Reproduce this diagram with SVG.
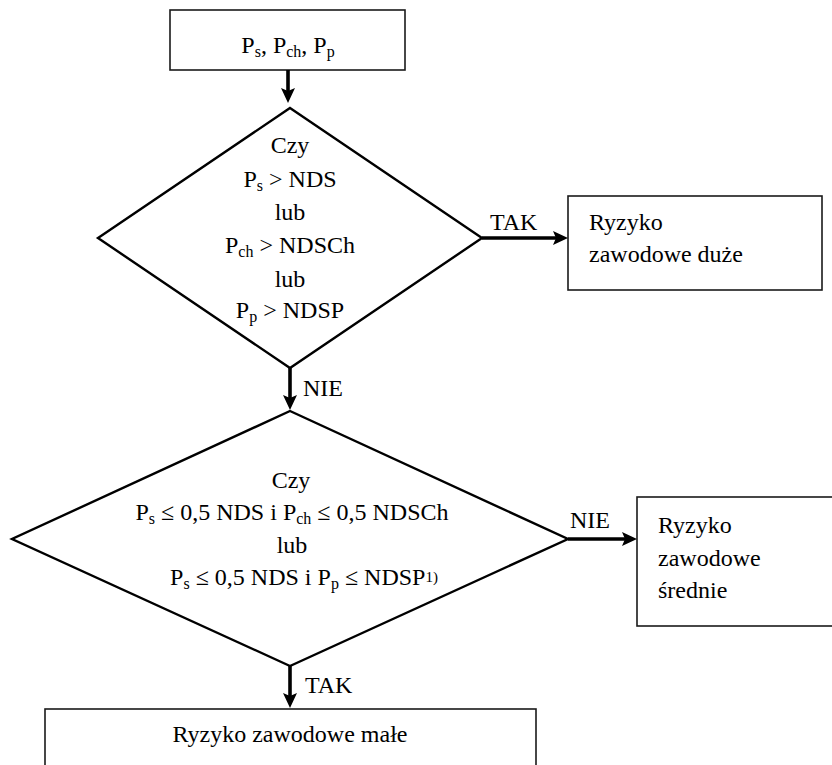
<svg xmlns="http://www.w3.org/2000/svg" width="832" height="765" viewBox="0 0 832 765">
  <rect width="832" height="765" fill="#ffffff"/>

  <!-- input box -->
  <g id="input">
    <rect x="170" y="10" width="235" height="60" fill="#ffffff" stroke="#1a1a1a" stroke-width="1.6"/>
    <text text-anchor="middle" font-family="Liberation Serif" font-size="24" x="288" y="53">P<tspan font-size="16" dy="4">s</tspan><tspan dy="-4">, P</tspan><tspan font-size="16" dy="4">ch</tspan><tspan dy="-4">, P</tspan><tspan font-size="16" dy="4">p</tspan></text>
  </g>

  <!-- first decision -->
  <g id="decision1">
    <polygon points="290,108 482,238 290,368 98,238" fill="#ffffff" stroke="#000000" stroke-width="2.4"/>
    <text text-anchor="middle" font-family="Liberation Serif" font-size="24" x="290" y="153">Czy</text>
    <text text-anchor="middle" font-family="Liberation Serif" font-size="24" x="290" y="187">P<tspan font-size="16" dy="4">s</tspan><tspan dy="-4"> &gt; NDS</tspan></text>
    <text text-anchor="middle" font-family="Liberation Serif" font-size="24" x="290" y="220">lub</text>
    <text text-anchor="middle" font-family="Liberation Serif" font-size="24" x="290" y="253">P<tspan font-size="16" dy="4">ch</tspan><tspan dy="-4"> &gt; NDSCh</tspan></text>
    <text text-anchor="middle" font-family="Liberation Serif" font-size="24" x="290" y="287">lub</text>
    <text text-anchor="middle" font-family="Liberation Serif" font-size="24" x="290" y="318">P<tspan font-size="16" dy="4">p</tspan><tspan dy="-4"> &gt; NDSP</tspan></text>
  </g>

  <!-- high risk -->
  <g id="risk-high">
    <rect x="568" y="196" width="254" height="94" fill="#ffffff" stroke="#1a1a1a" stroke-width="1.6"/>
    <text font-family="Liberation Serif" font-size="24" x="589" y="230">Ryzyko</text>
    <text font-family="Liberation Serif" font-size="24" x="589" y="262">zawodowe duże</text>
  </g>

  <!-- second decision -->
  <g id="decision2">
    <polygon points="290,411 568,539 290,666 12,539" fill="#ffffff" stroke="#000000" stroke-width="2.4"/>
    <text text-anchor="middle" font-family="Liberation Serif" font-size="24" x="291" y="488">Czy</text>
    <text text-anchor="middle" font-family="Liberation Serif" font-size="24" x="292" y="520">P<tspan font-size="16" dy="4">s</tspan><tspan dy="-4"> ≤ 0,5 NDS i P</tspan><tspan font-size="16" dy="4">ch</tspan><tspan dy="-4"> ≤ 0,5 NDSCh</tspan></text>
    <text text-anchor="middle" font-family="Liberation Serif" font-size="24" x="292" y="553">lub</text>
    <text text-anchor="middle" font-family="Liberation Serif" font-size="24" x="304" y="585">P<tspan font-size="16" dy="4">s</tspan><tspan dy="-4"> ≤ 0,5 NDS i P</tspan><tspan font-size="16" dy="4">p</tspan><tspan dy="-4"> ≤ NDSP</tspan><tspan font-size="15" dy="-3">1)</tspan></text>
  </g>

  <!-- medium risk -->
  <g id="risk-medium">
    <rect x="637" y="497" width="230" height="129" fill="#ffffff" stroke="#1a1a1a" stroke-width="1.6"/>
    <text font-family="Liberation Serif" font-size="24" x="658" y="533">Ryzyko</text>
    <text font-family="Liberation Serif" font-size="24" x="658" y="566">zawodowe</text>
    <text font-family="Liberation Serif" font-size="24" x="658" y="598">średnie</text>
  </g>

  <!-- low risk -->
  <g id="risk-low">
    <rect x="45" y="709" width="491" height="80" fill="#ffffff" stroke="#1a1a1a" stroke-width="1.6"/>
    <text text-anchor="middle" font-family="Liberation Serif" font-size="24" x="290" y="742">Ryzyko zawodowe małe</text>
  </g>

  <!-- connectors: shafts plus arrowheads -->
  <g id="connectors">
    <g stroke="#000000" stroke-width="3.6">
      <line x1="288" y1="70" x2="288" y2="92"/>
      <line x1="482" y1="238" x2="557" y2="238"/>
      <line x1="290" y1="368" x2="290" y2="399"/>
      <line x1="568" y1="539" x2="626" y2="539"/>
      <line x1="290" y1="666" x2="290" y2="697"/>
    </g>
    <g fill="#000000">
      <polygon points="281,88 288,91 295,88 288,103"/>
      <polygon points="553,231 556,238 553,245 568,238"/>
      <polygon points="283,395 290,398 297,395 290,410"/>
      <polygon points="622,532 625,539 622,546 637,539"/>
      <polygon points="283,693 290,696 297,693 290,708"/>
    </g>
    <text font-family="Liberation Serif" font-size="24" x="490" y="230">TAK</text>
    <text font-family="Liberation Serif" font-size="24" x="303" y="396">NIE</text>
    <text font-family="Liberation Serif" font-size="24" x="570" y="528">NIE</text>
    <text font-family="Liberation Serif" font-size="24" x="305" y="693">TAK</text>
  </g>
</svg>
